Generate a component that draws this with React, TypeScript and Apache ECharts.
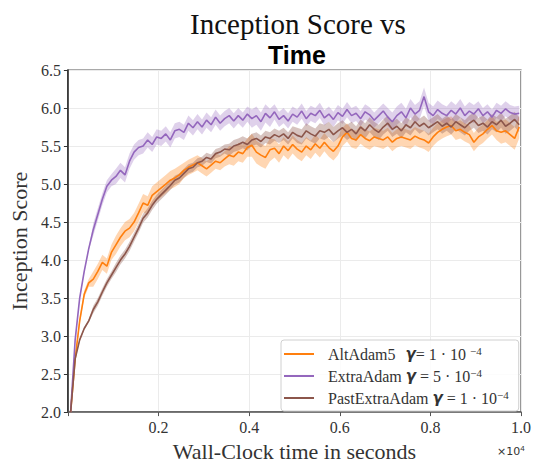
import React, { useEffect, useRef } from "react";
import * as echarts from "echarts";

const times = [
  0.006, 0.016, 0.026, 0.036, 0.046, 0.056, 0.066, 0.076, 0.086, 0.096,
  0.106, 0.116, 0.126, 0.136, 0.146, 0.156, 0.166, 0.176, 0.186, 0.196,
  0.206, 0.216, 0.226, 0.236, 0.246, 0.256, 0.266, 0.276, 0.286, 0.296,
  0.306, 0.316, 0.326, 0.336, 0.346, 0.356, 0.366, 0.376, 0.386, 0.396,
  0.406, 0.416, 0.426, 0.436, 0.446, 0.456, 0.466, 0.476, 0.486, 0.496,
  0.506, 0.516, 0.526, 0.536, 0.546, 0.556, 0.566, 0.576, 0.586, 0.596,
  0.606, 0.616, 0.626, 0.636, 0.646, 0.656, 0.666, 0.676, 0.686, 0.696,
  0.706, 0.716, 0.726, 0.736, 0.746, 0.756, 0.766, 0.776, 0.786, 0.796,
  0.806, 0.816, 0.826, 0.836, 0.846, 0.856, 0.866, 0.876, 0.886, 0.896,
  0.906, 0.916, 0.926, 0.936, 0.946, 0.956, 0.966, 0.976, 0.986, 0.996,
];

const altAdam = [
  2.0, 2.7, 3.2, 3.55, 3.7, 3.75, 3.85, 3.97, 3.92, 4.1,
  4.2, 4.3, 4.38, 4.42, 4.5, 4.62, 4.75, 4.72, 4.85, 4.9,
  4.95, 5.0, 5.05, 5.08, 5.12, 5.18, 5.22, 5.25, 5.28, 5.24,
  5.2, 5.25, 5.3, 5.28, 5.33, 5.38, 5.36, 5.42, 5.4, 5.48,
  5.51, 5.42, 5.38, 5.35, 5.45, 5.47, 5.4, 5.5, 5.44, 5.52,
  5.46, 5.42, 5.5, 5.45, 5.53, 5.47, 5.55, 5.48, 5.43, 5.5,
  5.62, 5.68, 5.6, 5.58, 5.65, 5.6, 5.57, 5.62, 5.6, 5.58,
  5.62, 5.55, 5.6, 5.62, 5.6, 5.58, 5.63, 5.6, 5.58, 5.54,
  5.62, 5.68, 5.72, 5.75, 5.77, 5.7, 5.72, 5.68, 5.65, 5.55,
  5.62, 5.66, 5.72, 5.77, 5.7, 5.68, 5.7, 5.65, 5.6, 5.75,
];

const extraAdam = [
  2.0, 2.95, 3.5, 3.85, 4.15, 4.4, 4.6, 4.8, 4.97, 5.05,
  5.1, 5.18, 5.12, 5.3, 5.42, 5.48, 5.5, 5.58, 5.52, 5.62,
  5.6, 5.66, 5.58, 5.7, 5.72, 5.68, 5.8, 5.74, 5.82, 5.75,
  5.84, 5.78, 5.88, 5.8, 5.86, 5.9, 5.83, 5.9, 5.84, 5.92,
  5.86, 5.9, 5.82, 5.93, 5.87, 5.95, 5.85, 5.9, 5.83, 5.92,
  5.88, 5.96, 5.86, 5.93, 5.9, 5.97, 5.87, 5.92, 5.85, 5.94,
  5.89, 5.98, 5.9, 5.93, 5.86, 5.95, 5.91, 5.84, 5.9, 5.96,
  5.88, 5.82, 5.9, 5.95, 5.87, 6.0, 5.92, 5.97, 6.15, 5.95,
  5.9, 5.98, 5.93, 5.9, 5.97, 5.92, 6.0, 5.9, 5.96, 5.92,
  5.99, 5.9, 5.95, 5.88, 5.97, 5.93, 5.99, 5.94, 5.92, 5.93,
];

const pastExtraAdam = [
  2.0, 2.7, 2.95, 3.1, 3.2, 3.35, 3.45, 3.58, 3.7, 3.8,
  3.9, 4.0, 4.08, 4.18, 4.3, 4.42, 4.55, 4.62, 4.72, 4.8,
  4.86, 4.92, 4.98, 5.05, 5.08, 5.14, 5.2, 5.22, 5.28, 5.3,
  5.35, 5.33, 5.4, 5.42, 5.46, 5.45, 5.5, 5.52, 5.55, 5.52,
  5.58, 5.6, 5.56, 5.62, 5.6, 5.65, 5.62, 5.66, 5.6, 5.68,
  5.64, 5.62, 5.7, 5.66, 5.63, 5.7, 5.68, 5.72, 5.65, 5.7,
  5.74, 5.68, 5.72, 5.66, 5.75, 5.7, 5.78, 5.72, 5.68, 5.75,
  5.8, 5.72, 5.76, 5.7, 5.78, 5.74, 5.82, 5.76, 5.8, 5.74,
  5.78, 5.82, 5.76, 5.8, 5.75, 5.82, 5.78, 5.74, 5.8, 5.84,
  5.77, 5.8, 5.75, 5.82, 5.78, 5.84, 5.76, 5.8, 5.85, 5.78,
];

// band half-widths, one entry per 5 samples
const altAdamSpread = [0.05, 0.1, 0.12, 0.12, 0.12, 0.1, 0.1, 0.12, 0.15, 0.12, 0.12, 0.12, 0.12, 0.12, 0.12, 0.12, 0.12, 0.12, 0.12, 0.15];
const extraAdamSpread = [0.02, 0.08, 0.1, 0.1, 0.1, 0.1, 0.1, 0.1, 0.12, 0.1, 0.1, 0.1, 0.1, 0.1, 0.12, 0.12, 0.12, 0.12, 0.1, 0.1];
const pastExtraAdamSpread = [0.02, 0.05, 0.06, 0.06, 0.06, 0.06, 0.06, 0.08, 0.08, 0.08, 0.1, 0.1, 0.1, 0.1, 0.1, 0.1, 0.1, 0.1, 0.1, 0.1];

const xTicks = ["0.2", "0.4", "0.6", "0.8", "1.0"];
const seriesNames = ["AltAdam5", "ExtraAdam", "PastExtraAdam"];
const legendLabels: Record<string, string> = {
  AltAdam5: "{n|AltAdam5}   {g|γ}{n|= 1 · 10 }{s|−4}",
  ExtraAdam: "{n|ExtraAdam }{g|γ}{n| = 5 · 10}{s|−4}",
  PastExtraAdam: "{n|PastExtraAdam }{g|γ}{n| = 1 · 10}{s|−4}",
};

const COLORS = ["#ff7f0e", "#9467bd", "#8c564b"];
const BAND = ["rgba(255,127,14,0.32)", "rgba(148,103,189,0.3)", "rgba(140,86,75,0.35)"];
const SERIF = "'Liberation Serif', 'DejaVu Serif', serif";

function pairs(vals: number[]) {
  return times.map((t, i) => [t, vals[i]]);
}

function band(mean: number[], spread: number[], fill: string) {
  return {
    type: "custom",
    silent: true,
    z: 1,
    data: [[0, 2]],
    renderItem: (params: any, api: any) => {
      const up = times.map((t, i) => api.coord([t, mean[i] + spread[Math.floor(i / 5)]]));
      const lo = times.map((t, i) => api.coord([t, mean[i] - spread[Math.floor(i / 5)]])).reverse();
      const cs = params.coordSys;
      return {
        type: "polygon",
        shape: { points: up.concat(lo) },
        style: { fill, stroke: "none" },
        clipPath: { type: "rect", shape: { x: cs.x, y: cs.y, width: cs.width, height: cs.height } },
      };
    },
  };
}

export default function App() {
  const ref = useRef<HTMLDivElement>(null);
  useEffect(() => {
    if (!ref.current) return;
    const chart = echarts.init(ref.current, undefined, { renderer: "svg" });
    const means = [altAdam, extraAdam, pastExtraAdam];
    const spreads = [altAdamSpread, extraAdamSpread, pastExtraAdamSpread];
    chart.setOption({
      animation: false,
      backgroundColor: "#fff",
      title: [
        {
          text: "Inception Score vs",
          left: 293,
          top: 4,
          textAlign: "center",
          textStyle: { fontFamily: SERIF, fontSize: 29, fontWeight: "normal", color: "#111" },
        },
        {
          text: "Time",
          left: 292,
          top: 37,
          textAlign: "center",
          textStyle: { fontFamily: "'Liberation Sans', Arial, sans-serif", fontSize: 25, fontWeight: "bold", color: "#000" },
        },
      ],
      grid: {
        left: 66,
        right: 11,
        top: 70,
        bottom: 48,
        show: true,
        borderColor: "#555",
        borderWidth: 1.2,
      },
      legend: {
        left: 281,
        top: 340,
        orient: "vertical",
        data: seriesNames.map((n) => ({ name: n, icon: "rect" })),
        itemWidth: 30,
        itemHeight: 2,
        itemGap: 5,
        padding: [5, 10, 5, 3],
        backgroundColor: "rgba(255,255,255,0.85)",
        borderColor: "#d0d0d0",
        borderWidth: 1,
        borderRadius: 3,
        formatter: (name: string) => legendLabels[name],
        textStyle: {
          padding: [0, 0, 0, 9],
          rich: {
            n: { fontFamily: SERIF, fontSize: 16, color: "#333" },
            g: { fontFamily: "'DejaVu Sans', sans-serif", fontSize: 15, fontWeight: "bold", fontStyle: "italic", color: "#333" },
            s: { fontFamily: SERIF, fontSize: 11, color: "#333", padding: [0, 0, 7, 0] },
          },
        },
      },
      xAxis: {
        type: "value",
        min: 0,
        max: 1,
        interval: 0.2,
        name: "Wall-Clock time in seconds",
        nameLocation: "middle",
        nameGap: 25,
        nameTextStyle: { fontFamily: SERIF, fontSize: 22, color: "#333" },
        axisLine: { show: true, lineStyle: { color: "#555", width: 1.5 } },
        axisTick: { show: true, length: 4, lineStyle: { color: "#555" } },
        axisLabel: {
          fontFamily: SERIF,
          fontSize: 16,
          color: "#333",
          margin: 7,
          formatter: (v: number) => {
            const s = v.toFixed(1);
            return xTicks.indexOf(s) >= 0 ? s : "";
          },
        },
        splitLine: { show: true, lineStyle: { color: "#ebebeb", width: 1 } },
      },
      yAxis: {
        type: "value",
        min: 2,
        max: 6.5,
        interval: 0.5,
        name: "Inception Score",
        nameLocation: "middle",
        nameGap: 37,
        nameTextStyle: { fontFamily: SERIF, fontSize: 22, color: "#333" },
        axisLine: { show: true, lineStyle: { color: "#222", width: 1.5 } },
        axisTick: { show: true, length: 4, lineStyle: { color: "#333" } },
        axisLabel: {
          fontFamily: SERIF,
          fontSize: 16,
          color: "#333",
          margin: 7,
          formatter: (v: number) => v.toFixed(1),
        },
        splitLine: { show: true, lineStyle: { color: "#ebebeb", width: 1 } },
      },
      graphic: [
        {
          type: "text",
          left: 497,
          top: 444,
          style: {
            text: "×10{sup|4}",
            fontFamily: "'DejaVu Sans', sans-serif",
            fontSize: 11,
            fill: "#333",
            rich: { sup: { fontSize: 8, padding: [0, 0, 6, 0], fill: "#333" } },
          },
        },
      ],
      series: [
        ...means.map((m, i) => band(m, spreads[i], BAND[i])),
        ...means.map((m, i) => ({
          name: seriesNames[i],
          type: "line",
          data: pairs(m),
          showSymbol: false,
          symbol: "none",
          z: 3,
          lineStyle: { color: COLORS[i], width: 1.6 },
          itemStyle: { color: COLORS[i] },
        })),
      ],
    });
    return () => chart.dispose();
  }, []);
  return <div ref={ref} style={{ position: "fixed", left: 0, top: 0, width: 534, height: 467 }} />;
}
